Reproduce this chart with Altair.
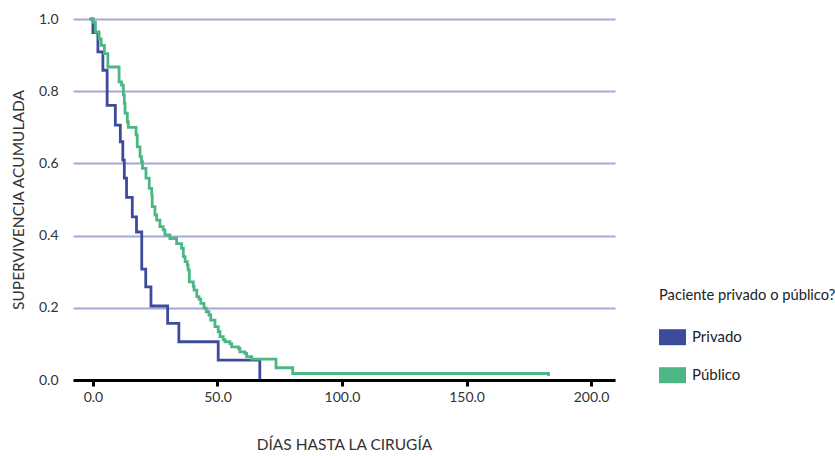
import altair as alt
import pandas as pd

# Kaplan-Meier steps (day of drop, survival after drop)
priv_days = [-1, 0, 2, 4, 5.7, 9, 11, 12, 12.6, 13.5, 15.8, 17.5, 19.6, 21.2, 23.3, 30, 34.5, 50.3, 67]
priv_surv = [1.0, 0.962, 0.909, 0.858, 0.761, 0.706, 0.66, 0.609, 0.559, 0.506, 0.452, 0.41,
             0.307, 0.258, 0.205, 0.157, 0.106, 0.055, 0.0]

pub_days = [-1.5, 0, 1, 2.5, 3.3, 4.6, 6, 10.5, 11.5, 12.2, 12.6, 12.9, 13.8, 14.2, 17.3, 17.8,
            18.9, 19.5, 19.9, 21.3, 22.6, 23.6, 23.8, 24.9, 25.6, 26.9, 28.2, 28.9, 30.9, 33.6,
            35.6, 36.3, 37.0, 37.9, 38.2, 38.7, 40.3, 40.6, 41.7, 42.6, 43.3, 44.6, 45.5, 46.6,
            47.3, 49.0, 50.3, 51.0, 52.3, 53.0, 55.0, 55.7, 58.4, 59.0, 61.0, 61.7, 63.7, 73.5,
            80.2, 182.9, 182.9]
pub_surv = [1.0, 0.991, 0.964, 0.945, 0.927, 0.904, 0.867, 0.826, 0.817, 0.79, 0.766, 0.739,
            0.715, 0.70, 0.679, 0.646, 0.619, 0.605, 0.586, 0.559, 0.531, 0.512, 0.48, 0.457,
            0.443, 0.425, 0.416, 0.402, 0.392, 0.378, 0.365, 0.342, 0.328, 0.318, 0.305, 0.272,
            0.26, 0.249, 0.231, 0.224, 0.212, 0.199, 0.189, 0.18, 0.166, 0.148, 0.134, 0.12,
            0.112, 0.106, 0.101, 0.092, 0.088, 0.078, 0.074, 0.065, 0.058, 0.034, 0.018, 0.018,
            0.011]

groups = ["Privado", "Público"]
colors = ["#3c4b9c", "#4cb784"]
x_ticks = [0, 50, 100, 150, 200]
y_ticks = [0, 0.2, 0.4, 0.6, 0.8, 1.0]

rows = []
for i, (d, s) in enumerate(zip(priv_days, priv_surv)):
    rows.append({"dias": d, "surv": s, "grupo": groups[0], "orden": i})
for i, (d, s) in enumerate(zip(pub_days, pub_surv)):
    rows.append({"dias": d, "surv": s, "grupo": groups[1], "orden": i})
df = pd.DataFrame(rows)

chart = alt.Chart(df).mark_line(interpolate="step-after", strokeWidth=2.8, clip=False).encode(
    x=alt.X("dias:Q",
            scale=alt.Scale(domain=[-8, 209.6], nice=False, zero=False),
            axis=alt.Axis(values=x_ticks, format=".1f", title="DÍAS HASTA LA CIRUGÍA",
                          grid=False, domainColor="#000000", domainWidth=3,
                          tickColor="#000000", tickWidth=3, tickSize=6, labelPadding=4,
                          titlePadding=33, zindex=1)),
    y=alt.Y("surv:Q",
            scale=alt.Scale(domain=[0, 1], nice=False),
            axis=alt.Axis(values=y_ticks, format=".1f", title="SUPERVIVENCIA ACUMULADA",
                          grid=True, gridColor="#a5a7d8", gridWidth=2, domain=False,
                          ticks=False, labelPadding=15, titlePadding=12)),
    color=alt.Color("grupo:N",
                    scale=alt.Scale(domain=groups, range=colors),
                    legend=alt.Legend(title="Paciente privado o público?", orient="none",
                                      legendX=586, legendY=269, titleFontSize=14.7,
                                      titleFontWeight="normal", titleColor="#222222",
                                      titleLimit=300, titlePadding=21,
                                      labelFontSize=15, labelColor="#222222", labelOffset=6,
                                      symbolType="M-1,-0.421L1,-0.421L1,0.421L-1,0.421Z",
                                      symbolSize=361, symbolOffset=0,
                                      symbolStrokeWidth=8, symbolOpacity=1, rowPadding=-3)),
    order="orden:Q",
).properties(
    width=542, height=361,
    autosize=alt.AutoSizeParams(type="none"),
    padding={"left": 73, "top": 19, "right": 220, "bottom": 76},
).configure(
    font="Lato", background="#ffffff"
).configure_view(
    stroke=None
).configure_axis(
    labelFontSize=14, labelColor="#333333", titleFontSize=15.5, titleColor="#333333",
    titleFontWeight="normal"
)

chart.save("out.html", embed_options={"renderer": "svg", "actions": False})
